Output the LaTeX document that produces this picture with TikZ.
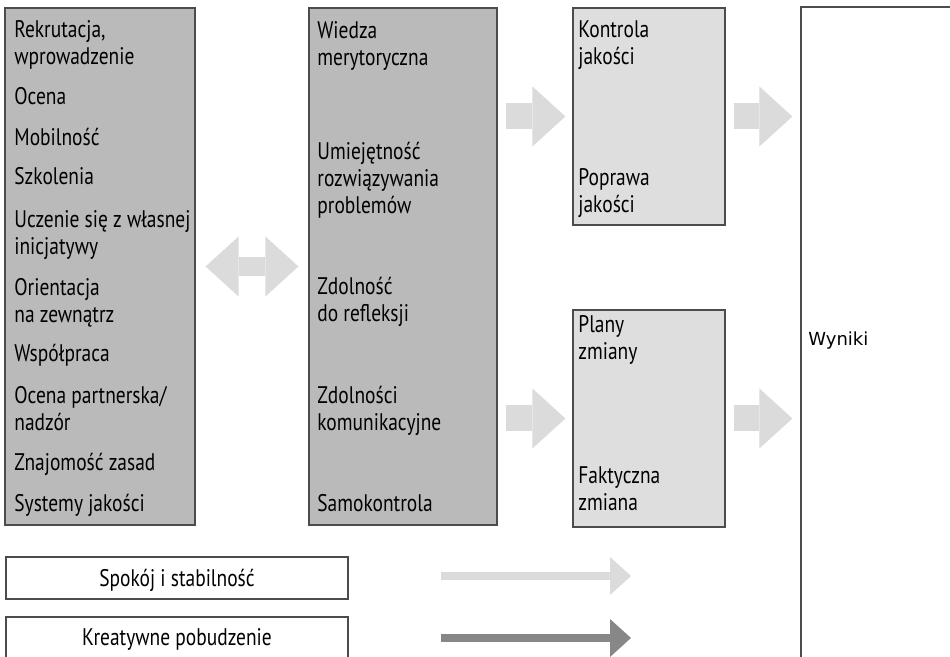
\documentclass[tikz,border=0pt]{standalone}
\usepackage{fontspec}
\setmainfont{PT Sans}[FakeStretch=0.81]
\newfontfamily\wynfont{DejaVu Sans}
\usetikzlibrary{arrows.meta,fit}

\definecolor{boxdark}{gray}{0.73}
\definecolor{boxlight}{gray}{0.87}
\definecolor{arrowlight}{gray}{0.86}
\definecolor{arrowdark}{gray}{0.53}
\definecolor{edge}{gray}{0.3}

\begin{document}
\begin{tikzpicture}[x=0.5pt,y=-0.5pt,
    box/.style={draw=edge,line width=0.6pt,inner sep=0pt},
    item/.style={anchor=base west,align=left,inner sep=0pt,
      font=\fontsize{12}{13.5}\selectfont},
    fat/.style={line width=13pt,draw=arrowlight,
      -{Triangle[length=16.5pt,width=30pt,line width=0pt]}},
    fatboth/.style={line width=9.5pt,draw=arrowlight,
      {Triangle[length=16.5pt,width=30pt,line width=0pt]}-{Triangle[length=16.5pt,width=30pt,line width=0pt]}},
    thin/.style={line width=4pt,
      -{Triangle[length=10.5pt,width=19pt,line width=0pt]}}]
  \clip (0,0) rectangle (950,657);
  \fill[white] (0,0) rectangle (950,657);

  % boxes
  \node[box,fill=boxdark,fit={(5,8) (195,525)}] (org) {};
  \node[box,fill=boxdark,fit={(309,8) (497,525)}] (komp) {};
  \node[box,fill=boxlight,fit={(573,8) (725,225)}] (jak) {};
  \node[box,fill=boxlight,fit={(573,310) (725,527)}] (zmi) {};
  \node[box,fit={(801,7) (990,700)}] (wyn) {};
  \node[box,fit={(6,557) (348,599)}] (spok) {};
  \node[box,fit={(6,617) (348,700)}] (krea) {};

  % texts (y = baseline of the last line)
  \foreach \yy/\txt [count=\i] in {65/{Rekrutacja,\\wprowadzenie},105/Ocena,
      146/Mobilność,184.5/Szkolenia,255/{Uczenie się z własnej\\inicjatywy},
      322.5/{Orientacja\\na zewnątrz},362/Współpraca,
      430.5/{Ocena partnerska/\\nadzór},471/Znajomość zasad,512/Systemy jakości}
    \node[item] (o\i) at (14,\yy) {\txt};
  \foreach \yy/\txt [count=\i] in {66/{Wiedza\\merytoryczna},
      214/{Umiejętność\\rozwiązywania\\problemów},321.5/{Zdolność\\do refleksji},
      430.5/{Zdolności\\komunikacyjne},512/Samokontrola}
    \node[item] (k\i) at (317,\yy) {\txt};
  \node[item] (j1) at (578,65) {Kontrola\\jakości};
  \node[item] (j2) at (578,213) {Poprawa\\jakości};
  \node[item] (z1) at (578,360) {Plany\\zmiany};
  \node[item] (z2) at (578,511) {Faktyczna\\zmiana};
  \node[item,font=\wynfont\fontsize{9}{10}\selectfont] (w1) at (808,346) {Wyniki};
  \node[item,anchor=base] (s1) at (177,587) {Spokój i stabilność};
  \node[item,anchor=base] (c1) at (177,646) {Kreatywne pobudzenie};

  % arrows
  \draw[fatboth,shorten <=5pt,shorten >=5pt] (org.east) -- (komp.west);
  \draw[fat,shorten <=4pt,shorten >=3.5pt] (komp.east |- jak.west) -- (jak.west);
  \draw[fat,shorten <=4pt,shorten >=3.5pt] (komp.east |- zmi.west) -- (zmi.west);
  \draw[fat,shorten <=4pt,shorten >=4pt] (jak.east) -- (jak.east -| wyn.west);
  \draw[fat,shorten <=4pt,shorten >=4pt] (zmi.east) -- (zmi.east -| wyn.west);
  \coordinate (a1) at (441,576);
  \coordinate (b1) at (631,576);
  \coordinate (a2) at (441,638);
  \coordinate (b2) at (631,638);
  \draw[thin,arrowlight] (a1) -- (b1);
  \draw[thin,arrowdark] (a2) -- (b2);
\end{tikzpicture}
\end{document}
